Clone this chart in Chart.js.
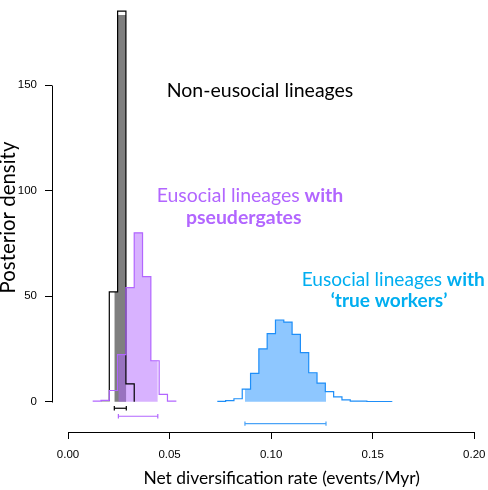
<!DOCTYPE html>
<html>
<head>
<meta charset="utf-8">
<script src="https://cdn.jsdelivr.net/npm/chart.js@4.4.1/dist/chart.umd.min.js"></script>
<style>
html,body{margin:0;padding:0;background:#fff;}
canvas{display:block;}
</style>
</head>
<body>
<canvas id="c" width="488" height="490"></canvas>
<script>
// ---- data ----
const xTickValues = [0, 0.05, 0.10, 0.15, 0.20];
const xTickLabels = ["0.00", "0.05", "0.10", "0.15", "0.20"];
const yTickValues = [0, 50, 100, 150];
const yTickLabels = ["0", "50", "100", "150"];

// Non-eusocial lineages (black / grey)
const blackEdges   = [0.01624, 0.02033, 0.02442, 0.02851, 0.03260];
const blackDensity = [0.5, 52, 185, 8.4];
const blackHPD     = [0.0228, 0.0287];

// Eusocial lineages with pseudergates (purple)
const purpleEdges   = [0.01215, 0.01624, 0.02033, 0.02442, 0.02851, 0.03260, 0.03669, 0.04078, 0.04487, 0.04896, 0.05305];
const purpleDensity = [0.3, 0.6, 5.3, 22.3, 54, 80, 59.2, 19.4, 3.5, 0.3];
const purpleHPD     = [0.0248, 0.0442];

// Eusocial lineages with 'true workers' (blue)
const blueEdges   = [0.07350, 0.07759, 0.08168, 0.08577, 0.08986, 0.09395, 0.09804, 0.10213, 0.10622, 0.11031,
                     0.11440, 0.11849, 0.12258, 0.12667, 0.13076, 0.13485, 0.13894, 0.14303, 0.14712, 0.15121,
                     0.15530, 0.15939];
const blueDensity = [0.2, 0.5, 1.4, 6.0, 13.4, 25.0, 32.2, 38.7, 37.7, 31.9,
                     23.2, 13.7, 8.8, 4.8, 2.3, 0.9, 0.3, 0.25, 0.1, 0.1, 0.1];
const blueHPD     = [0.0871, 0.1270];

// ---- helpers building library data from the arrays ----
function outline(edges, dens) {
  return edges.map((e, i) => ({x: e, y: i < dens.length ? dens[i] : 0}));
}
function clipped(edges, dens, hpd) {
  const lo = hpd[0], hi = hpd[1];
  const pts = [];
  let last = null;
  for (let i = 0; i < dens.length; i++) {
    const a = edges[i], b = edges[i + 1];
    if (b <= lo || a >= hi) continue;
    pts.push({x: Math.max(a, lo), y: dens[i]});
    last = {x: Math.min(b, hi), y: dens[i]};
  }
  if (last) pts.push(last);
  return pts;
}
function interval(hpd, row) {
  return [{x: hpd[0], y: row}, {x: hpd[1], y: row}];
}

const FONT_ANN = "Lato, 'Open Sans', sans-serif";
const FONT_TICK = "11.5px 'Liberation Sans', Arial, sans-serif";

function lineWidth(ctx, parts, size) {
  let w = 0;
  for (const p of parts) {
    ctx.font = (p.b ? 'bold ' : '') + size + 'px ' + FONT_ANN;
    w += ctx.measureText(p.t).width;
  }
  return w;
}
function fitSize(ctx, parts, target) {
  return 100 * target / lineWidth(ctx, parts, 100);
}
function drawParts(ctx, parts, cx, baseline, size, color) {
  const w = lineWidth(ctx, parts, size);
  let x = cx - w / 2;
  ctx.fillStyle = color;
  ctx.textAlign = 'left';
  ctx.textBaseline = 'alphabetic';
  for (const p of parts) {
    ctx.font = (p.b ? 'bold ' : '') + size + 'px ' + FONT_ANN;
    ctx.fillText(p.t, x, baseline);
    x += ctx.measureText(p.t).width;
  }
}

const decor = {
  id: 'decor',
  afterDraw(chart) {
    const ctx = chart.ctx;
    const xs = chart.scales.x, ys = chart.scales.y;
    const area = chart.chartArea;
    ctx.save();
    ctx.strokeStyle = '#000';
    ctx.lineWidth = 1;
    // axis lines spanning only the tick range (R style)
    const yb = Math.round(area.bottom) + 0.5;
    ctx.beginPath();
    ctx.moveTo(Math.round(xs.getPixelForValue(xTickValues[0])) + 0.5, yb);
    ctx.lineTo(Math.round(xs.getPixelForValue(xTickValues[xTickValues.length - 1])) + 0.5, yb);
    ctx.stroke();
    const xl = Math.round(area.left) + 0.5;
    ctx.beginPath();
    ctx.moveTo(xl, Math.round(ys.getPixelForValue(yTickValues[0])) + 0.5);
    ctx.lineTo(xl, Math.round(ys.getPixelForValue(yTickValues[yTickValues.length - 1])) + 0.5);
    ctx.stroke();

    // x tick labels at the scale's tick positions
    ctx.fillStyle = '#000';
    ctx.font = FONT_TICK;
    ctx.textAlign = 'center';
    ctx.textBaseline = 'alphabetic';
    xTickValues.forEach((v, i) => {
      ctx.fillText(xTickLabels[i], xs.getPixelForValue(v), area.bottom + 26);
    });

    // axis titles
    const xt = [{t: 'Net diversification rate (events/Myr)'}];
    drawParts(ctx, xt, 281.7, 484, fitSize(ctx, xt, 276.7), '#000');
    const yt = [{t: 'Posterior density'}];
    const ys2 = fitSize(ctx, yt, 152);
    ctx.save();
    ctx.translate(15, 217.5);
    ctx.rotate(-Math.PI / 2);
    drawParts(ctx, yt, 0, 0, ys2, '#000');
    ctx.restore();

    // annotations
    const a1 = [{t: 'Non-eusocial lineages'}];
    drawParts(ctx, a1, 260, 96.7, fitSize(ctx, a1, 186.7), '#000');

    const p1 = [{t: 'Eusocial lineages '}, {t: 'with', b: true}];
    const p2 = [{t: 'pseudergates', b: true}];
    const ps = fitSize(ctx, p1, 186.7);
    drawParts(ctx, p1, 250, 201.7, ps, '#b266ff');
    drawParts(ctx, p2, 243.7, 223.5, ps, '#b266ff');

    const b1 = [{t: 'Eusocial lineages '}, {t: 'with', b: true}];
    const b2 = [{t: '\u2018true workers\u2019', b: true}];
    const bs = fitSize(ctx, b1, 183.3);
    drawParts(ctx, b1, 393.3, 286, bs, '#00aef0');
    drawParts(ctx, b2, 389, 307, bs, '#00aef0');
    ctx.restore();
  }
};

const histLine = {showLine: true, stepped: 'before', pointRadius: 0, borderWidth: 1.2, fill: false, tension: 0, clip: false};
const histFill = {showLine: true, stepped: 'before', pointRadius: 0, borderWidth: 0, fill: 'origin', tension: 0, clip: false};
const intLine = {showLine: true, borderWidth: 1.2, pointStyle: 'line', pointRadius: 2.2, pointRotation: 90, pointBorderWidth: 1.2, fill: false, clip: false};

const chart = new Chart(document.getElementById('c'), {
  type: 'scatter',
  data: {
    datasets: [
      Object.assign({}, histFill, {data: clipped(blackEdges, blackDensity, blackHPD), backgroundColor: 'rgba(0,0,0,0.5)', borderColor: 'rgba(0,0,0,0)', order: 10}),
      Object.assign({}, histFill, {data: clipped(purpleEdges, purpleDensity, purpleHPD), backgroundColor: 'rgba(178,102,255,0.5)', borderColor: 'rgba(0,0,0,0)', order: 9}),
      Object.assign({}, histFill, {data: clipped(blueEdges, blueDensity, blueHPD), backgroundColor: 'rgba(30,144,255,0.5)', borderColor: 'rgba(0,0,0,0)', order: 9}),
      Object.assign({}, histLine, {data: outline(blackEdges, blackDensity), borderColor: '#000', order: 5}),
      Object.assign({}, histLine, {data: outline(purpleEdges, purpleDensity), borderColor: '#b266ff', order: 4}),
      Object.assign({}, histLine, {data: outline(blueEdges, blueDensity), borderColor: '#1e8ef8', order: 4}),
      Object.assign({}, intLine, {data: interval(blackHPD, -3.1), borderColor: '#000', pointBorderColor: '#000', order: 1}),
      Object.assign({}, intLine, {data: interval(purpleHPD, -6.9), borderColor: '#b266ff', pointBorderColor: '#b266ff', order: 1}),
      Object.assign({}, intLine, {data: interval(blueHPD, -10.4), borderColor: '#4aa3f7', pointBorderColor: '#4aa3f7', order: 1})
    ]
  },
  options: {
    responsive: false,
    animation: false,
    devicePixelRatio: 1,
    layout: {autoPadding: false, padding: {top: 0, right: 0, left: 0, bottom: 0}},
    plugins: {legend: {display: false}, tooltip: {enabled: false}},
    scales: {
      x: {
        type: 'linear',
        min: -0.007876,
        max: 0.20625,
        afterBuildTicks: (s) => { s.ticks = xTickValues.map(v => ({value: v})); },
        afterFit: (s) => { s.height = 58; },
        ticks: {display: false, autoSkip: false},
        grid: {drawOnChartArea: false, drawTicks: true, tickLength: 7, color: '#000', lineWidth: 1},
        border: {display: false}
      },
      y: {
        type: 'linear',
        min: -14.35,
        max: 185.52,
        afterBuildTicks: (s) => { s.ticks = yTickValues.map(v => ({value: v})); },
        afterFit: (s) => { s.width = 52; },
        ticks: {
          callback: (v, i) => yTickLabels[i],
          font: {family: "'Liberation Sans', Arial, sans-serif", size: 11.5},
          color: '#000',
          padding: 8,
          autoSkip: false
        },
        grid: {drawOnChartArea: false, drawTicks: true, tickLength: 7, color: '#000', lineWidth: 1},
        border: {display: false}
      }
    }
  },
  plugins: [decor]
});

// calibrate scale ranges (iteratively, layout depends on range) so the
// first/last tick values land where the reference puts them
(function calibrate() {
  const X0 = 68, X1 = 474.3, Y0 = 401.7, Y1 = 85;
  const x0 = xTickValues[0], x1 = xTickValues[xTickValues.length - 1];
  const y0 = yTickValues[0], y1 = yTickValues[yTickValues.length - 1];
  const vx = (P) => x0 + (P - X0) * (x1 - x0) / (X1 - X0);
  const vy = (P) => y0 + (Y0 - P) * (y1 - y0) / (Y0 - Y1);
  for (let k = 0; k < 12; k++) {
    const xs = chart.scales.x, ys = chart.scales.y;
    const errX = Math.abs(xs.getPixelForValue(x1) - X1) + Math.abs(xs.getPixelForValue(x0) - X0);
    const errY = Math.abs(ys.getPixelForValue(y1) - Y1) + Math.abs(ys.getPixelForValue(y0) - Y0);
    if (errX < 0.05 && errY < 0.05) break;
    const pxMin = xs.getPixelForValue(xs.min), pxMax = xs.getPixelForValue(xs.max);
    const pyMin = ys.getPixelForValue(ys.min), pyMax = ys.getPixelForValue(ys.max);
    chart.options.scales.x.min = vx(pxMin);
    chart.options.scales.x.max = vx(pxMax);
    chart.options.scales.y.min = vy(pyMin);
    chart.options.scales.y.max = vy(pyMax);
    chart.update();
  }
})();
</script>
</body>
</html>
